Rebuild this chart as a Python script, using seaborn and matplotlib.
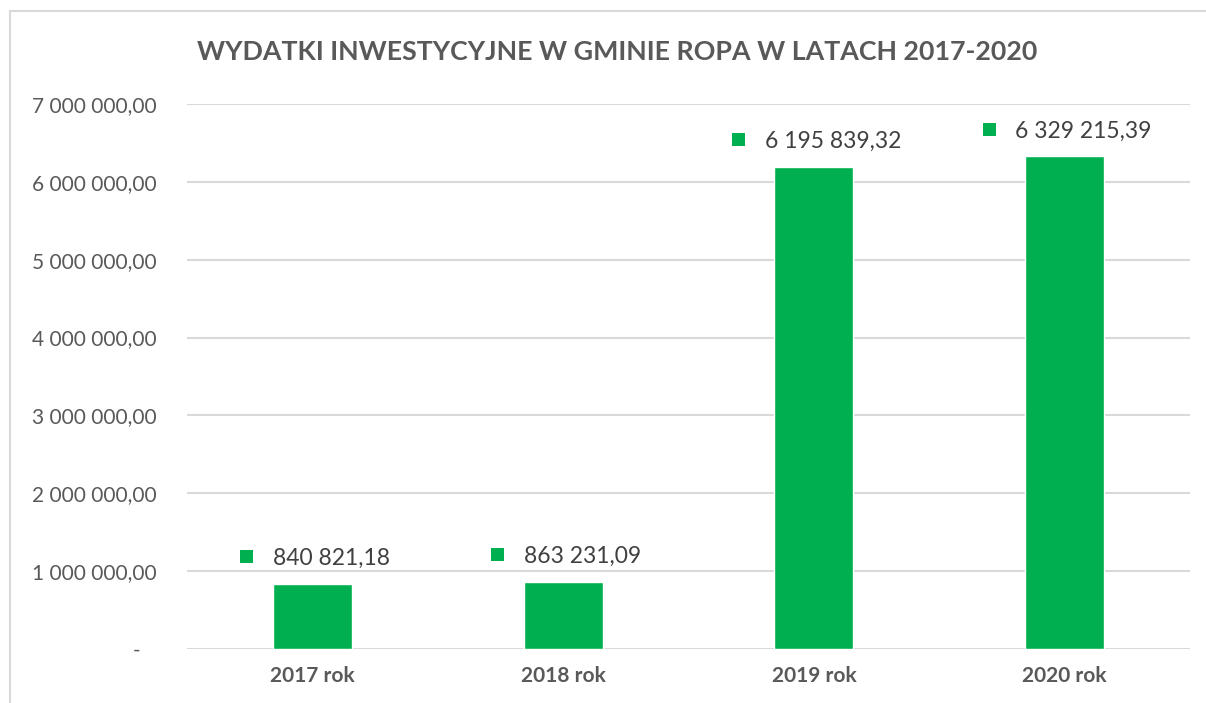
import pandas as pd
import seaborn as sns
import matplotlib.pyplot as plt
from matplotlib.patches import Rectangle

sns.set_theme(style="white")
plt.rcParams['font.family'] = ['Lato', 'DejaVu Sans']

# data
years = ['2017 rok', '2018 rok', '2019 rok', '2020 rok']
values = [840821.18, 863231.09, 6195839.32, 6329215.39]
yticks = [0, 1000000, 2000000, 3000000, 4000000, 5000000, 6000000, 7000000]

green = '#00B050'
grey = '#595959'


def pl_fmt(v):
    # polish style: space thousands, comma decimals
    s = f"{v:,.2f}".replace(',', ' ').replace('.', ',')
    return s


df = pd.DataFrame({'rok': years, 'kwota': values})

fig = plt.figure(figsize=(12.06, 7.03), dpi=100)
ax = fig.add_axes([187/1206, 1-649/703, (1190-187)/1206, (649-104)/703])

sns.barplot(data=df, x='rok', y='kwota', color=green, width=0.315,
            saturation=1, ax=ax, zorder=3)

ax.set_ylim(0, 7000000)
ax.set_yticks(yticks)
ax.set_yticklabels([pl_fmt(t) if t else '-   ' for t in yticks],
                   fontsize=15, color=grey)
ax.set_xticklabels(years, fontsize=15, color=grey, fontweight='bold')
ax.tick_params(axis='y', length=0, pad=22)
ax.tick_params(axis='x', length=0, pad=12)
ax.set_xlabel('')
ax.set_ylabel('')
ax.yaxis.grid(True, color='#D9D9D9', lw=1.5, zorder=0)
for s in ax.spines.values():
    s.set_visible(False)

fig.text(617/1206, 1-52/703, 'WYDATKI INWESTYCYJNE W GMINIE ROPA W LATACH 2017-2020',
         ha='center', va='center', fontsize=19.3, fontweight='bold', color=grey)

# data labels with small green square in front
fig.canvas.draw()
r = fig.canvas.get_renderer()
for i, v in enumerate(values):
    t = ax.annotate(pl_fmt(v), (i, v), xytext=(19, 25), textcoords='offset pixels',
                    ha='center', va='center', fontsize=16.5, color='#404040')
    bb = t.get_window_extent(r)
    xs = bb.x0 - 26
    ys = (bb.y0 + bb.y1) / 2 + 2
    fig.patches.append(Rectangle((xs - 6.5, ys - 6.5), 13, 13, transform=None,
                                 facecolor=green, edgecolor='none'))

# chart border
fig.patches.append(Rectangle((10, -5), 1300, 703 - 11 + 5, transform=None,
                             fill=False, edgecolor='#D9D9D9', lw=1.5))

fig.savefig('out.png', dpi=100)
